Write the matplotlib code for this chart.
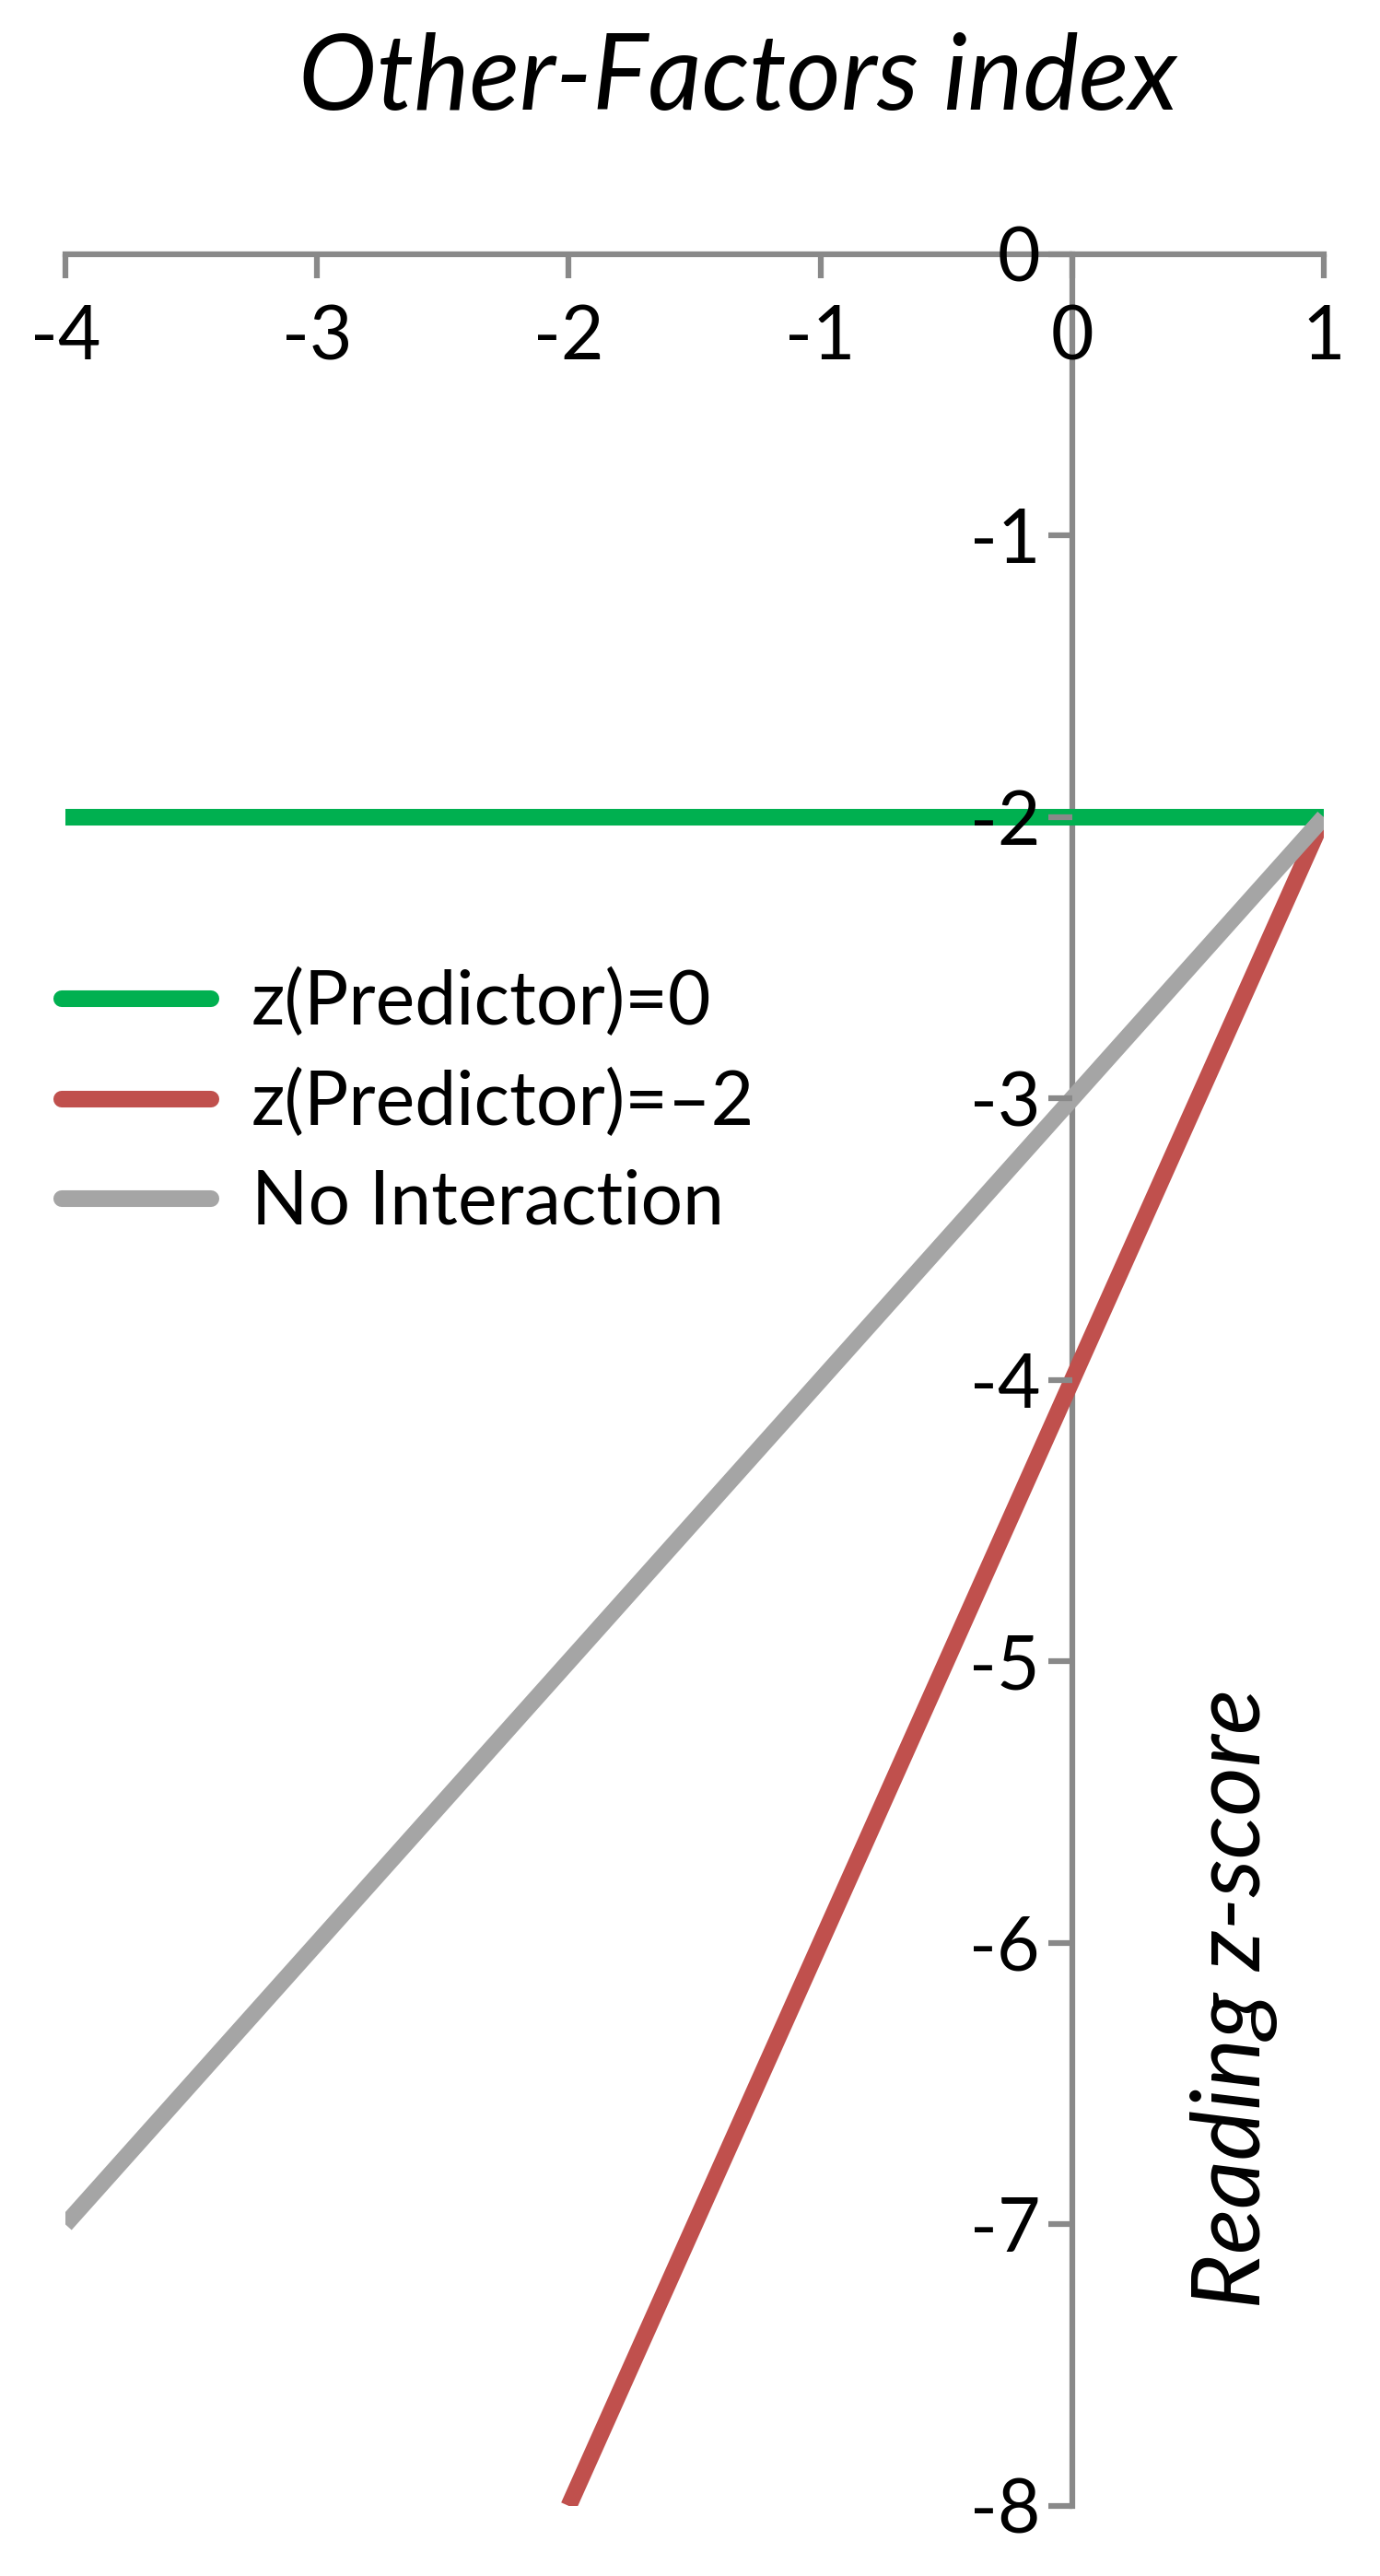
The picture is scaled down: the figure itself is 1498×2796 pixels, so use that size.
import matplotlib
matplotlib.use("Agg")
import matplotlib.pyplot as plt

plt.rcParams['font.family'] = ['Lato', 'DejaVu Sans']
plt.rcParams['axes.unicode_minus'] = False

# Values
x_green = [-4, 1]
y_green = [-2, -2]
x_red = [-2, 1]
y_red = [-8, -2]
x_gray = [-4, 1]
y_gray = [-7, -2]
labels = ['z(Predictor)=0', 'z(Predictor)=\u20132', 'No Interaction']
x_ticks = [-4, -3, -2, -1, 0, 1]
y_ticks = [-8, -7, -6, -5, -4, -3, -2, -1, 0]

AXIS_COLOR = '#898989'
LW = 13

fig = plt.figure(figsize=(14.98, 27.96), dpi=100)
ax = fig.add_axes([0.0474, 0.0272, 0.9119, 0.8741])

ax.plot(x_green, y_green, color='#00B050', lw=LW, solid_capstyle='butt', label=labels[0])
ax.plot(x_red, y_red, color='#C0504D', lw=LW, solid_capstyle='butt', label=labels[1])
ax.plot(x_gray, y_gray, color='#A5A5A5', lw=LW, solid_capstyle='butt', label=labels[2])

ax.set_xlim(-4, 1)
ax.set_ylim(-8, 0)
ax.set_xticks(x_ticks)
ax.set_yticks(y_ticks)

# axes cross at the origin, axis lines sit under the data lines
ax.spines['bottom'].set_position(('data', 0))
ax.spines['left'].set_position(('data', 0))
ax.spines['top'].set_visible(False)
ax.spines['right'].set_visible(False)
for s in ('bottom', 'left'):
    ax.spines[s].set_color(AXIS_COLOR)
    ax.spines[s].set_linewidth(4.5)
    ax.spines[s].set_zorder(0)
# tick labels drawn on top of the lines
ax.set_axisbelow(False)

ax.tick_params(axis='x', direction='out', length=19, width=4.5, color=AXIS_COLOR,
               labelsize=58, pad=20)
ax.tick_params(axis='y', direction='out', length=19, width=4.5, color=AXIS_COLOR,
               labelsize=58, pad=6)
ax.patch.set_visible(False)

fig.text(0.535, 0.969, 'Other-Factors index', fontsize=82, style='italic',
         ha='center', va='center')
fig.text(0.894, 0.224, 'Reading z-score', fontsize=74, style='italic',
         rotation=90, ha='center', va='center')

leg = fig.legend(loc='center left', bbox_to_anchor=(0.045, 0.572), frameon=False,
                 fontsize=58, handlelength=2.0, handletextpad=0.55,
                 labelspacing=0.42, borderpad=0, borderaxespad=0)
for line in leg.get_lines():
    line.set_solid_capstyle('round')
    line.set_linewidth(LW)

fig.savefig('out.png', dpi=100)
